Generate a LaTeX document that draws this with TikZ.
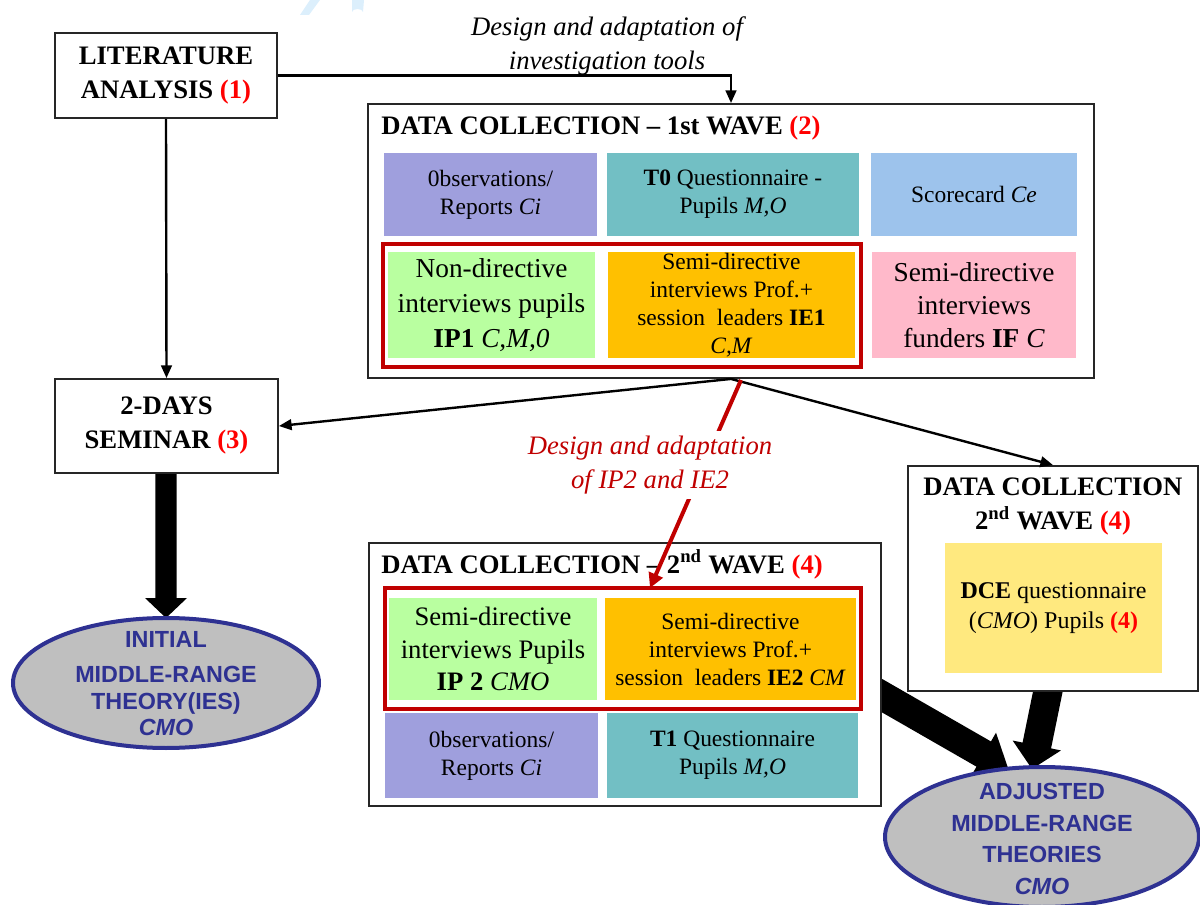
\documentclass[tikz,border=0pt]{standalone}
\usepackage{fontspec}
\setmainfont{Liberation Serif}
\newfontfamily\ellfont{Liberation Sans}
\usetikzlibrary{arrows.meta,calc,shapes.geometric}

\definecolor{numred}{HTML}{FF0000}
\definecolor{dred}{HTML}{C00000}
\definecolor{cpurple}{HTML}{9F9FDD}
\definecolor{cteal}{HTML}{72BFC4}
\definecolor{cblue}{HTML}{9DC3EC}
\definecolor{cgreen}{HTML}{B9FFA0}
\definecolor{corange}{HTML}{FFC000}
\definecolor{cpink}{HTML}{FFB9CA}
\definecolor{cyellow}{HTML}{FFE97F}
\definecolor{eblue}{HTML}{2E3192}
\definecolor{egray}{HTML}{BFBFBF}
\definecolor{wmark}{HTML}{DCEFFC}

\newcommand\num[1]{\textcolor{numred}{\textbf{#1}}}

% filled block arrow: start, tip, shaft half width, head half width, head length
\newcommand\fatarrow[5]{%
  \coordinate (fa-hb) at ($(#2)!#5!(#1)$);
  \fill ($(#1)!#3!90:(#2)$) -- ($(fa-hb)!#3!90:(#2)$) -- ($(fa-hb)!#4!90:(#2)$)
    -- (#2) -- ($(fa-hb)!#4!-90:(#2)$) -- ($(fa-hb)!#3!-90:(#2)$)
    -- ($(#1)!#3!-90:(#2)$) -- cycle;
}

\begin{document}
\begin{tikzpicture}[x=0.75pt,y=-0.75pt,
  wh/.style 2 args={minimum width=#1*0.75pt, minimum height=#2*0.75pt},
  frame/.style={draw=black!85, line width=1.4pt, fill=white, inner sep=0pt, align=center},
  cell/.style={inner sep=0pt, align=center, text=black},
  redframe/.style={draw=dred, line width=3pt, inner sep=0pt},
  head/.style={font=\bfseries\fontsize{20}{25.5}\selectfont, align=center, inner sep=0pt},
  small/.style={font=\fontsize{17.6}{21}\selectfont},
  large/.style={font=\fontsize{20.5}{25}\selectfont},
  thinarrow/.style={line width=1.8pt, -{Triangle[width=8pt,length=9.5pt]}},
  redarrow/.style={draw=dred, line width=3pt, -{Triangle[width=11pt,length=11pt]}},
  theory/.style={ellipse, draw=eblue, line width=3pt, fill=egray, inner sep=0pt},
  theorytext/.style={align=center, inner sep=0pt, text=eblue,
    font=\ellfont\bfseries\fontsize{17.5}{20}\selectfont},
  note/.style={align=center, inner sep=2pt, font=\itshape\fontsize{20}{25}\selectfont}
]
\useasboundingbox (0,0) rectangle (1200,905);
\clip (0,0) rectangle (1200,905);

% faint marks along the top edge
\fill[wmark] (300,15) -- (309,15) -- (320,0) -- (310,0) -- cycle;
\fill[wmark] (352,0) -- (364,0) -- (363,12) arc[start angle=0,end angle=-180,x radius=5.5,y radius=3] -- cycle;

% block arrows towards the theories
\coordinate (fa1s) at (166,474);
\coordinate (fa1e) at (166,618);
\fatarrow{fa1s}{fa1e}{7.9pt}{15.75pt}{15pt}
\coordinate (fa2s) at (860,683);
\coordinate (fa2e) at (1008,768);
\fatarrow{fa2s}{fa2e}{10.9pt}{18.5pt}{21pt}
\coordinate (fa3s) at (1050,681);
\coordinate (fa3e) at (1032,769);
\fatarrow{fa3s}{fa3e}{10.9pt}{18.5pt}{18pt}

% stand-alone boxes
\node[frame, wh={222}{85}, head] (lit) at (166,75.5) {LITERATURE\\ANALYSIS \num{(1)}};
\node[frame, wh={223}{94}, head] (sem) at (166.5,426) {2-DAYS\\SEMINAR \num{(3)}};

% first wave of data collection
\node[frame, wh={726}{274}] (dcA) at (731,241) {};
\node[head, anchor=base west] (dcAtitle) at (381,135) {DATA COLLECTION -- 1st WAVE \num{(2)}};
\node[cell, fill=cpurple, wh={213}{83}, small] (obsA) at (490.5,194.5) {0bservations/\\Reports \textit{Ci}};
\node[cell, fill=cteal, wh={252}{83}, small] (tzero) at (733,194.5) {\textbf{T0} Questionnaire -\\Pupils \textit{M,O}};
\node[cell, fill=cblue, wh={206}{83}, small] (score) at (974,194.5) {Scorecard \textit{Ce}};
\node[redframe, wh={478}{123}] (redA) at (622,305.5) {};
\node[cell, fill=cgreen, wh={207}{106}, font=\fontsize{20.5}{26}\selectfont] (ipA) at (491.5,305) {Non-directive\\interviews pupils\\\textbf{IP1} \textit{C,M,0}};
\node[cell, fill=corange, wh={247}{106}, small] (ieA) at (731.5,305) {Semi-directive\\interviews Prof.+\\session\ \ leaders \textbf{IE1}\\\textit{C,M}};
\node[cell, fill=cpink, wh={204}{106}, large] (ifund) at (974,305) {Semi-directive\\interviews\\funders \textbf{IF} \textit{C}};

% second wave of data collection, interviews and observations
\node[frame, wh={512}{263}] (dcB) at (625,674.5) {};
\node[head, anchor=base west] (dcBtitle) at (381,573) {DATA COLLECTION -- 2\textsuperscript{nd} WAVE \num{(4)}};
\node[redframe, wh={476}{121}] (redB) at (623,648.5) {};
\node[cell, fill=cgreen, wh={208}{102}, font=\fontsize{20}{24.5}\selectfont] (ipB) at (493,649) {Semi-directive\\interviews Pupils\\\textbf{IP 2} \textit{CMO}};
\node[cell, fill=corange, wh={251}{102}, small] (ieB) at (730.5,649) {Semi-directive\\interviews Prof.+\\session\ \ leaders \textbf{IE2} \textit{CM}};
\node[cell, fill=cpurple, wh={213}{85}, small] (obsB) at (491.5,755.5) {0bservations/\\Reports \textit{Ci}};
\node[cell, fill=cteal, wh={251}{85}, small] (tone) at (732.5,755.5) {\textbf{T1} Questionnaire\\Pupils \textit{M,O}};

% second wave of data collection, DCE questionnaire
\node[frame, wh={290}{225}] (dcC) at (1053,578.5) {};
\node[head] (dcCtitle) at (1053,507) {DATA COLLECTION\\2\textsuperscript{nd} WAVE \num{(4)}};
\node[cell, fill=cyellow, wh={217}{130}, font=\fontsize{18}{22.5}\selectfont] (dce) at (1053.5,608) {\textbf{DCE} questionnaire\\(\textit{CMO}) Pupils \num{(4)}};

% theories
\node[theory, wh={306}{130}] (initial) at (166,683) {};
\node[theorytext] (initialtxt) at (166,684) {INITIAL\\[6pt]MIDDLE-RANGE\\THEORY(IES)\\\textit{CMO}};
\node[theory, wh={314}{140}] (adjusted) at (1042,837) {};
\node[theorytext, font=\ellfont\bfseries\fontsize{17.5}{23.8}\selectfont] (adjustedtxt) at (1042,839) {ADJUSTED\\MIDDLE-RANGE\\THEORIES\\\textit{CMO}};

% thin connectors
\draw[thinarrow] (lit.east) -| (dcA.north);
\node[note] (lblTools) at (607,46) {Design and adaptation of\\investigation tools};
\draw[thinarrow] (lit.south) -- (sem.north);
\draw[thinarrow] (dcA.south) -- (sem.east);
\draw[thinarrow] (dcA.south) -- (dcC.north);

% red connector between the interview sets
\coordinate (rs) at (741,380);
\coordinate (re) at (650,588);
\draw[redarrow] (rs) -- (re);
\node[note, fill=white, text=dred, inner sep=4pt] (lblIP) at (650,465) {Design and adaptation\\of IP2 and IE2};
\end{tikzpicture}
\end{document}
